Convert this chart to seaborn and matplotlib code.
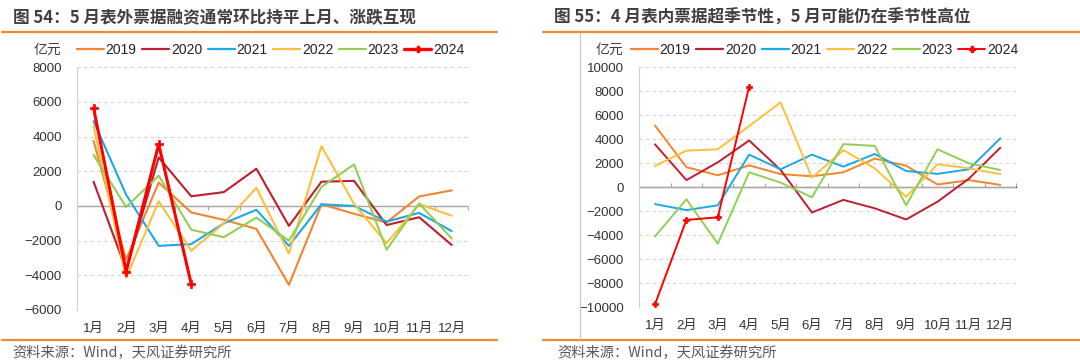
import numpy as np
import pandas as pd
import matplotlib
matplotlib.use('Agg')
import matplotlib.pyplot as plt
import seaborn as sns
from matplotlib.lines import Line2D

# Data (亿元)
months = ['1月', '2月', '3月', '4月', '5月', '6月', '7月', '8月', '9月', '10月', '11月', '12月']
years = ['2019', '2020', '2021', '2022', '2023', '2024']

# Left: 表外票据融资 (monthly change)
off_2019 = [3750, -3100, 1350, -370, -800, -1320, -4550, 100, -450, -950, 550, 900]
off_2020 = [1400, -3680, 2800, 560, 800, 2150, -1150, 1400, 1450, -1100, -650, -2250]
off_2021 = [4900, 650, -2300, -2200, -1000, -220, -2300, 100, 0, -900, -400, -1450]
off_2022 = [4600, -4150, 270, -2580, -1000, 1050, -2750, 3450, 120, -2150, 100, -560]
off_2023 = [2950, -60, 1750, -1370, -1800, -670, -2000, 1100, 2400, -2520, 150, -1880]
off_2024 = [5650, -3780, 3560, -4500]

# Right: 表内票据融资
on_2019 = [5150, 1680, 1000, 1830, 1100, 920, 1250, 2390, 1800, 230, 600, 200]
on_2020 = [3580, 600, 2080, 3900, 1450, -2100, -1050, -1750, -2680, -1200, 720, 3300]
on_2021 = [-1400, -1900, -1500, 2720, 1500, 2720, 1720, 2780, 1360, 1120, 1500, 4080]
on_2022 = [1780, 3050, 3170, 5100, 7080, 800, 3100, 1580, -800, 1920, 1580, 1100]
on_2023 = [-4100, -1000, -4700, 1250, 390, -830, 3600, 3450, -1500, 3170, 2000, 1440]
on_2024 = [-9750, -2720, -2500, 8390]

left_series = dict(zip(years, [off_2019, off_2020, off_2021, off_2022, off_2023, off_2024]))
right_series = dict(zip(years, [on_2019, on_2020, on_2021, on_2022, on_2023, on_2024]))

colors = {'2019': '#F5842C', '2020': '#BE1E2D', '2021': '#1BA9E6',
          '2022': '#FDBF3C', '2023': '#92CF50', '2024': '#FF0000'}

sns.set_style('white')
plt.rcParams['font.family'] = ['Liberation Sans', 'Noto Sans CJK SC']
plt.rcParams['axes.unicode_minus'] = True

fig = plt.figure(figsize=(10.8, 3.64), dpi=100)
W, H = 1080, 364


def px(x, y):
    return x / W, 1 - y / H


def draw_panel(ax, series, ylim, yticks, lw, lw_last, ms_last):
    for yr in years:
        vals = series[yr]
        df = pd.DataFrame({'month': np.arange(1, len(vals) + 1), 'value': vals})
        if yr == '2024':
            sns.lineplot(data=df, x='month', y='value', color=colors[yr], lw=lw_last,
                         marker='P', markersize=ms_last, markeredgecolor=colors[yr],
                         markeredgewidth=0.5, ax=ax, legend=False, zorder=5)
        else:
            sns.lineplot(data=df, x='month', y='value', color=colors[yr], lw=lw,
                         ax=ax, legend=False, zorder=3)
    ax.set_xlim(0.5, 12.5)
    ax.set_ylim(*ylim)
    ax.set_yticks(yticks)
    ax.set_xticks(range(1, 13))
    ax.set_xticklabels(months)
    ax.set_xlabel('')
    ax.set_ylabel('')
    ax.grid(False)
    # dashed gridlines, the zero level gets the solid axis line instead
    ax.hlines([t for t in yticks if t != 0], 0.5, 12.5, color='#D4D4D4',
              ls=(0, (3, 3)), lw=0.8, zorder=0.5)
    ax.axhline(0, color='#A6A6A6', lw=1, zorder=1)
    for s in ['top', 'right', 'bottom']:
        ax.spines[s].set_visible(False)
    ax.spines['left'].set_color('#D0D0D0')
    ax.tick_params(axis='y', length=3, color='#C8C8C8', labelsize=9.5,
                   labelcolor='#333333', pad=8)
    ax.tick_params(axis='x', length=0, labelsize=9.5, labelcolor='#333333', pad=9)
    # category-boundary ticks hanging under the zero line
    frac = (0 - ylim[0]) / (ylim[1] - ylim[0])
    sec = ax.secondary_xaxis(frac)
    sec.set_xticks(np.arange(0.5, 13, 1))
    sec.set_xticklabels([])
    sec.spines['bottom'].set_visible(False)
    sec.tick_params(length=3, color='#A6A6A6', direction='out')


ax1 = fig.add_axes([77.3 / W, 1 - 310 / H, (468 - 77.3) / W, (310 - 67.3) / H])
draw_panel(ax1, left_series, (-6000, 8000), np.arange(-6000, 8001, 2000), 1.5, 2.2, 6)

ax2 = fig.add_axes([639.3 / W, 1 - 307.3 / H, (1016 - 639.3) / W, (307.3 - 67.3) / H])
draw_panel(ax2, right_series, (-10000, 10000), np.arange(-10000, 10001, 2000), 1.4, 1.4, 4.5)


def legend_for(x0, lw_last, ms_last):
    handles = []
    for yr in years:
        if yr == '2024':
            handles.append(Line2D([], [], color=colors[yr], lw=lw_last, marker='P',
                                  markersize=ms_last, markeredgecolor=colors[yr]))
        else:
            handles.append(Line2D([], [], color=colors[yr], lw=1.6))
    fig.legend(handles, years, loc='center left', bbox_to_anchor=(x0 / W, 1 - 50 / H),
               ncol=6, frameon=False, fontsize=10, handlelength=1.95, handletextpad=0.12,
               columnspacing=0.4, borderpad=0, borderaxespad=0, labelcolor='#222222')


legend_for(77, 2.4, 5)
legend_for(631, 1.4, 4)

fig.text(*px(47, 50), '亿元', ha='center', va='center', fontsize=10, color='#404040')
fig.text(*px(609, 50), '亿元', ha='center', va='center', fontsize=10, color='#404040')

title_kw = dict(ha='left', va='center', fontsize=12, fontweight='bold', color='#404040',
                family=['Noto Sans CJK SC'])
fig.text(*px(13, 18), '图 54：5 月表外票据融资通常环比持平上月、涨跌互现', **title_kw)
fig.text(*px(554, 18), '图 55：4 月表内票据超季节性，5 月可能仍在季节性高位', **title_kw)

src_kw = dict(ha='left', va='center', fontsize=10.3, color='#595959',
              family=['Noto Sans CJK SC'])
fig.text(*px(12, 353), '资料来源：Wind，天风证券研究所', **src_kw)
fig.text(*px(557, 353), '资料来源：Wind，天风证券研究所', **src_kw)

orange = '#F28A30'
for (xa, xb) in [(2, 497), (543, 1080)]:
    for yy in (32, 340):
        fig.add_artist(Line2D([xa / W, xb / W], [1 - yy / H, 1 - yy / H],
                              color=orange, lw=1.6))
fig.add_artist(Line2D([580 / W, 580 / W], [1 - 33 / H, 1 - 339 / H], color='#C8C8C8', lw=0.8))

fig.savefig('out.png', dpi=100)
